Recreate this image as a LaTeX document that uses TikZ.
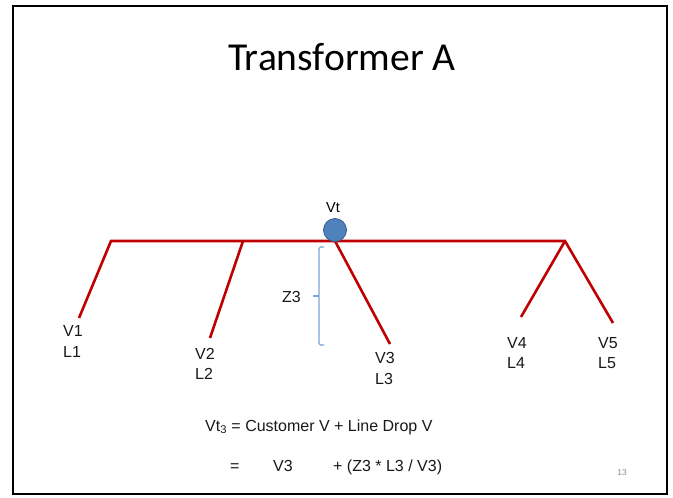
\documentclass[tikz,border=0pt]{standalone}
\usepackage{fontspec}
\setmainfont{Liberation Sans}
\newfontfamily\titlefont{Carlito}
\definecolor{wire}{HTML}{C00000}
\definecolor{dotfill}{HTML}{4F81BD}
\definecolor{dotline}{HTML}{385D8A}
\definecolor{bracecol}{HTML}{7FA3D3}
\definecolor{pagenum}{HTML}{8C8C8C}
\tikzset{
  wireline/.style={draw=wire, line width=2.6pt, line join=miter},
  lbl/.style={inner sep=0pt, anchor=base west, font=\fontsize{16}{19}\selectfont, text=black!90},
}
\begin{document}
\begin{tikzpicture}[x=1pt,y=-1pt]
\useasboundingbox (0,0) rectangle (673,498);
\fill[white] (0,0) rectangle (673,498);
\draw[line width=2.2pt] (13,6) rectangle (667,494);
% title
\node[inner sep=0pt, anchor=base, font=\titlefont\fontsize{39.6}{44}\selectfont] (title) at (342,70) {Transformer A};
% junctions
\coordinate (j1) at (111,241);
\coordinate (j2) at (243,241);
\coordinate (j3) at (335,241);
\coordinate (j4) at (565,241);
\coordinate (e1) at (79,318);
\coordinate (e2) at (210,338);
\coordinate (e3) at (390,344);
\coordinate (e4) at (521,317);
\coordinate (e5) at (613,323);
\draw[wireline] (e1) -- (j1) -- (j4) -- (e5);
\draw[wireline] (j2) -- (e2);
\draw[wireline] (j3) -- (e3);
\draw[wireline] (j4) -- (e4);
% transformer dot
\node[circle, fill=dotfill, draw=dotline, line width=0.8pt, minimum size=23pt, inner sep=0pt] (vt) at (335,230) {};
\node[inner sep=0pt, anchor=base, font=\fontsize{14.5}{16}\selectfont] (vtlbl) at (333,212) {Vt};
% brace
\draw[bracecol, line width=1.3pt, rounded corners=1.5pt] (324,247) -- (319,247) -- (319,345) -- (324,345);
\draw[bracecol, line width=1.3pt] (313,296) -- (319,296);
\node[lbl, anchor=base east] (z3) at (301,302) {Z3};
% labels
\node[lbl] (v1) at (63,336) {V1};
\node[lbl] (l1) at (63,357) {L1};
\node[lbl] (v2) at (195,359) {V2};
\node[lbl] (l2) at (195,379) {L2};
\node[lbl] (v3) at (375,363) {V3};
\node[lbl] (l3) at (375,384) {L3};
\node[lbl] (v4) at (507,348) {V4};
\node[lbl] (l4) at (507,368) {L4};
\node[lbl] (v5) at (598,348) {V5};
\node[lbl] (l5) at (598,368) {L5};
% formula
\node[lbl] (f1) at (205,431) {Vt\textsubscript{3} = Customer V + Line Drop V};
\node[lbl] (f2) at (230,471) {=};
\node[lbl] (f3) at (273,471) {V3};
\node[lbl] (f4) at (333,471) {+ (Z3 * L3 / V3)};
% page number
\node[inner sep=0pt, anchor=base, font=\fontsize{8.5}{9}\selectfont, text=pagenum] (pg) at (622,475) {13};
\end{tikzpicture}
\end{document}
